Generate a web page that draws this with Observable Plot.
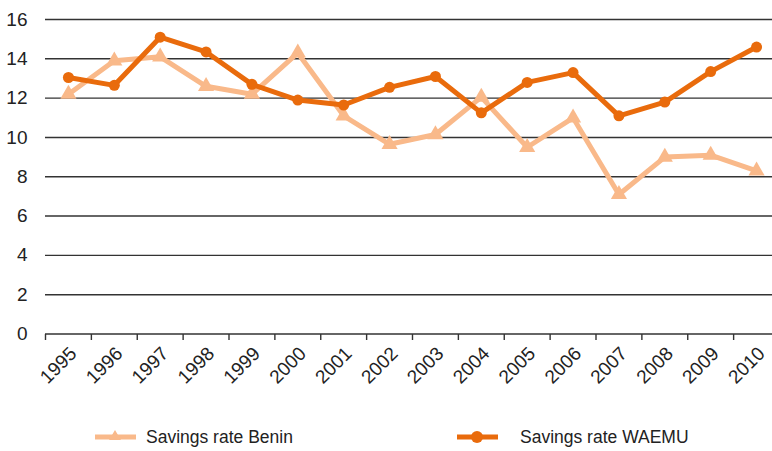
<!DOCTYPE html>
<html>
<head>
<meta charset="utf-8">
<script src="https://cdn.jsdelivr.net/npm/d3@7"></script>
<script src="https://cdn.jsdelivr.net/npm/@observablehq/plot@0.6"></script>
<style>
  html, body { margin: 0; padding: 0; background: #fff; }
  #wrap { width: 772px; height: 451px; position: relative; overflow: hidden; font-family: "Liberation Sans", Arial, sans-serif; }
  #legend { position: absolute; left: 0; top: 400px; width: 772px; height: 51px; }
  .item { position: absolute; top: 25px; display: flex; align-items: center; font-size: 17.5px; color: #222; }
  .item svg { margin-right: 10px; }
</style>
</head>
<body>
<div id="wrap">
  <div id="chart"></div>
  <div id="legend"></div>
</div>
<script>
const years = [1995, 1996, 1997, 1998, 1999, 2000, 2001, 2002, 2003, 2004, 2005, 2006, 2007, 2008, 2009, 2010];
const benin = [12.2, 13.9, 14.1, 12.6, 12.2, 14.3, 11.1, 9.65, 10.15, 12.05, 9.5, 11.0, 7.1, 9.0, 9.1, 8.3];
const waemu = [13.05, 12.65, 15.1, 14.35, 12.7, 11.9, 11.65, 12.55, 13.1, 11.25, 12.8, 13.3, 11.1, 11.8, 13.35, 14.6];
const yTicks = [0, 2, 4, 6, 8, 10, 12, 14, 16];
const seriesNames = ["Savings rate Benin", "Savings rate WAEMU"];
const seriesColors = ["#F9B98A", "#E96B0C"];

const beninData = years.map((y, i) => ({year: y, value: benin[i]}));
const waemuData = years.map((y, i) => ({year: y, value: waemu[i]}));
const bounds = years.map(y => y - 0.5).concat([years[years.length - 1] + 0.5]);

const chart = Plot.plot({
  width: 772,
  height: 400,
  marginTop: 19,
  marginBottom: 66,
  marginLeft: 45,
  marginRight: 0,
  style: {fontFamily: '"Liberation Sans", Arial, sans-serif', color: "#222", background: "#fff"},
  x: {domain: [years[0] - 0.5, years[years.length - 1] + 0.5], range: [45, 779]},
  y: {domain: [0, 16], range: [333.5, 19]},
  marks: [
    Plot.ruleY(yTicks, {stroke: "#333", strokeWidth: 1.4}),
    Plot.axisY({ticks: yTicks, tickSize: 0, tickPadding: 18, fontSize: 19, label: null}),
    Plot.axisX({ticks: bounds, tickSize: 6, tickFormat: () => "", stroke: "#333", strokeWidth: 1.4, label: null}),
    Plot.axisX({ticks: years, tickSize: 0, tickPadding: 16, dx: 5, tickRotate: -45, tickFormat: d => String(d), fontSize: 19, label: null}),
    Plot.line(beninData, {x: "year", y: "value", stroke: seriesColors[0], strokeWidth: 5}),
    Plot.dot(beninData, {x: "year", y: "value", symbol: "triangle", r: 6, fill: seriesColors[0], stroke: "none"}),
    Plot.line(waemuData, {x: "year", y: "value", stroke: seriesColors[1], strokeWidth: 5}),
    Plot.dot(waemuData, {x: "year", y: "value", symbol: "circle", r: 5.5, fill: seriesColors[1], stroke: "none"})
  ]
});
document.getElementById("chart").appendChild(chart);

const legend = document.getElementById("legend");
const legendPos = [95, 457];
seriesNames.forEach((name, i) => {
  const item = document.createElement("div");
  item.className = "item";
  item.style.left = legendPos[i] + "px";
  const marker = i === 0
    ? '<polygon points="20,5 26,15 14,15" fill="' + seriesColors[i] + '"/>'
    : '<circle cx="20" cy="12" r="6" fill="' + seriesColors[i] + '"/>';
  item.innerHTML = '<svg width="41" height="24"><line x1="0" x2="41" y1="12" y2="12" stroke="' + seriesColors[i] + '" stroke-width="5"/>' + marker + '</svg><span style="margin-left:' + (i === 0 ? 0 : 12) + 'px">' + name + '</span>';
  legend.appendChild(item);
});
</script>
</body>
</html>
